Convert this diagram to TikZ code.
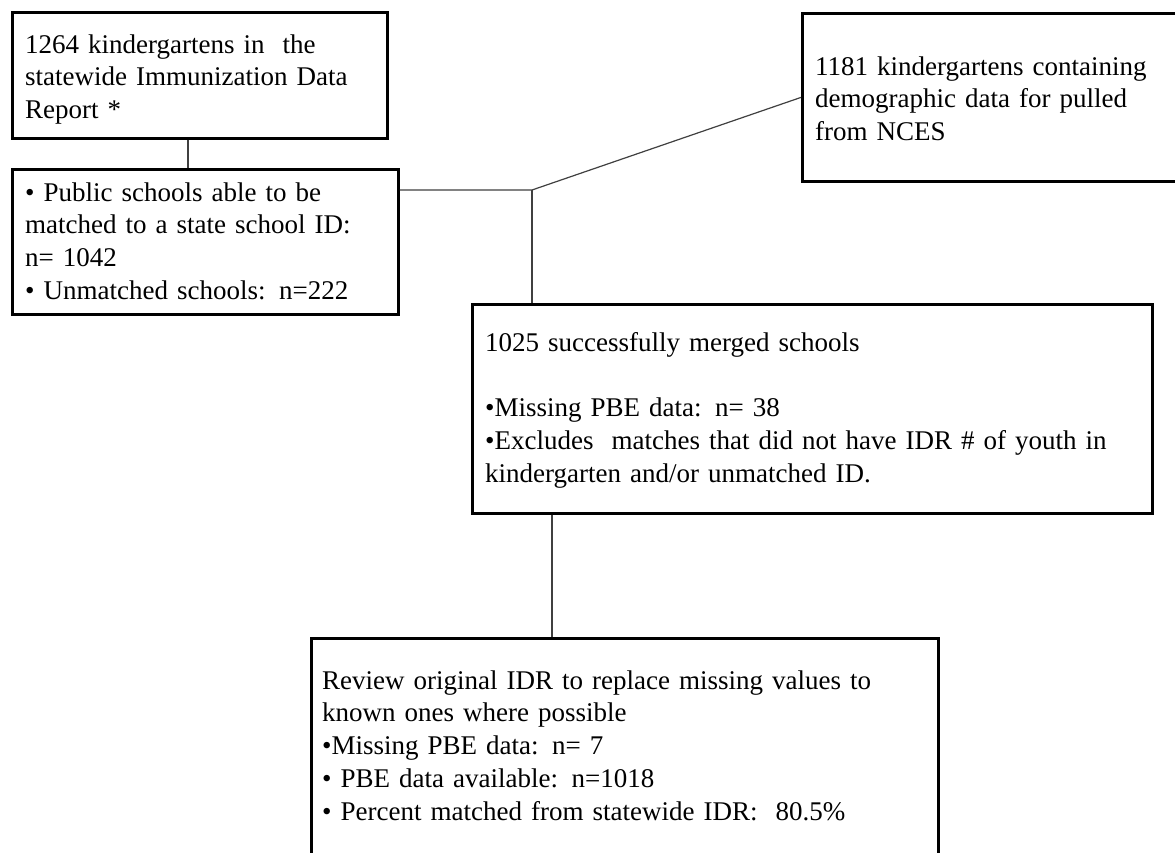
\documentclass[tikz,border=0pt]{standalone}
\usepackage{fontspec}
\setmainfont{Liberation Serif}
\begin{document}
\begin{tikzpicture}[x=1pt,y=-1pt,
  box/.style={draw=black, line width=2.8pt, inner sep=0pt, anchor=north west},
  txt/.style={anchor=north west, inner sep=0pt, align=left, text width=#1,
    font=\fontsize{27}{32.8}\selectfont},
  conn/.style={draw=black!75, line width=1.2pt}]
\useasboundingbox (0,0) rectangle (1175,852);
\clip (0,0) rectangle (1175,852);
\fill[white] (0,0) rectangle (1175,852);
% boxes
\node[box, minimum width=375pt, minimum height=126pt] (A) at (11,11) {};
\node[box, minimum width=386pt, minimum height=145pt] (B) at (11,168) {};
\node[box, minimum width=400pt, minimum height=168pt] (C) at (801,12) {};
\node[box, minimum width=680pt, minimum height=209pt] (D) at (471,303) {};
\node[box, minimum width=627pt, minimum height=260pt] (E) at (310,637) {};
% texts
\node[txt=360pt] (tA) at (25,30) {\strut 1264 kindergartens in~ the\\statewide Immunization Data\\Report *};
\node[txt=370pt] (tB) at (25,178) {\strut • Public schools able to be\\matched to a state school ID:\\n= 1042\\• Unmatched schools: n=222};
\node[txt=360pt] (tC) at (815,52) {\strut 1181 kindergartens containing\\demographic data for pulled\\from NCES};
\node[txt=660pt] (tD) at (485,328) {\strut 1025 successfully merged schools\\\mbox{}\\•Missing PBE data: n= 38\\•Excludes~ matches that did not have IDR \# of youth in\\kindergarten and/or unmatched ID.};
\node[txt=610pt] (tE) at (322,666) {\strut Review original IDR to replace missing values to\\known ones where possible\\•Missing PBE data: n= 7\\• PBE data available: n=1018\\• Percent matched from statewide IDR:~ 80.5\%};
% connectors
\coordinate (xab) at (188,0);
\coordinate (j) at (532,190);
\coordinate (xde) at (552,0);
\draw[conn] (A.south -| xab) -- (B.north -| xab);
\draw[conn] (B.north east |- j) -- (j) -- (C.west);
\draw[conn] (j) -- (j |- D.north);
\draw[conn] (D.south -| xde) -- (E.north -| xde);
\end{tikzpicture}
\end{document}
